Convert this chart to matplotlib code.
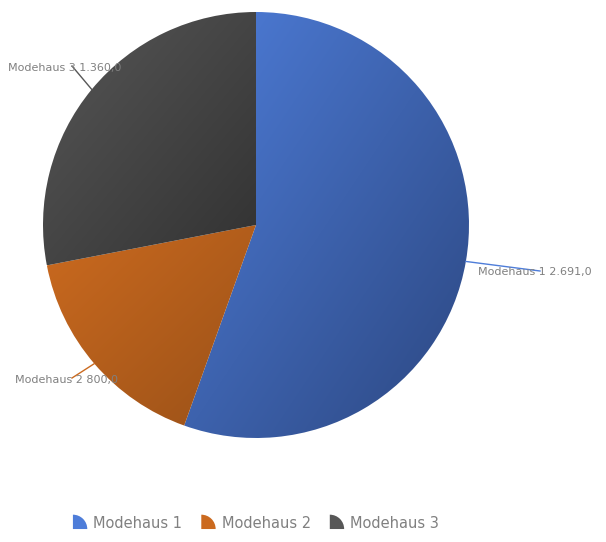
import numpy as np
import matplotlib.pyplot as plt
from matplotlib.colors import LinearSegmentedColormap
from matplotlib.legend_handler import HandlerPatch
from matplotlib.patches import Wedge

labels = ['Modehaus 1', 'Modehaus 2', 'Modehaus 3']
values = [2691.0, 800.0, 1360.0]
value_texts = ['2.691,0', '800,0', '1.360,0']
light_colors = ['#4e7dd9', '#cb6a1f', '#575757']
dark_colors = ['#2c4781', '#9a5118', '#323232']

W, H = 606, 542
cx, cy, r = 256, H - 225, 213


class QuarterHandler(HandlerPatch):
    def create_artists(self, legend, orig_handle, xdescent, ydescent,
                       width, height, fontsize, trans):
        s = min(width, height) * 1.1
        p = Wedge((-xdescent, -ydescent), s, 0, 90,
                  facecolor=orig_handle.get_label_color, edgecolor='none')
        p.set_facecolor(orig_handle._legend_color)
        p.set_transform(trans)
        return [p]


def main():
    fig = plt.figure(figsize=(W / 100, H / 100), dpi=100)
    ax = fig.add_axes([0, 0, 1, 1])

    wedges, _ = ax.pie(values, startangle=90, counterclock=False,
                       center=(cx, cy), radius=r, colors=light_colors,
                       wedgeprops=dict(linewidth=0))
    ax.set_aspect('equal')
    ax.axis('off')

    # diagonal gradient inside each wedge, light top-left -> dark bottom-right
    for w, c1, c2 in zip(wedges, light_colors, dark_colors):
        bb = w.get_path().get_extents(w.get_patch_transform())
        n = 200
        xx, yy = np.meshgrid(np.linspace(0, 1, n), np.linspace(0, 1, n))
        grad = (xx + (1 - yy)) / 2
        cmap = LinearSegmentedColormap.from_list('g', [c1, c2])
        im = ax.imshow(grad, cmap=cmap, extent=(bb.x0, bb.x1, bb.y0, bb.y1),
                       origin='lower', interpolation='bilinear', zorder=1,
                       aspect='auto')
        im.set_clip_path(w)
        w.set_facecolor('none')
        w.set_zorder(2)
    ax.set_xlim(0, W)
    ax.set_ylim(0, H)

    # leader lines and labels
    total = sum(values)
    start = 0
    text_pos = [(478, H - 272), (15, H - 380), (8, H - 68)]
    line_end = [(540, H - 271), (72, H - 378), (72, H - 66)]
    for i, v in enumerate(values):
        mid = (start + v / 2) / total * 2 * np.pi
        start += v
        px = cx + r * np.sin(mid)
        py = cy + r * np.cos(mid)
        ax.plot([px, line_end[i][0]], [py, line_end[i][1]],
                color=light_colors[i], lw=1, zorder=3)
        ax.text(text_pos[i][0], text_pos[i][1],
                labels[i] + ' ' + value_texts[i],
                fontsize=8, color='#808080', va='center', ha='left', zorder=4)

    handles = []
    for lab, c in zip(labels, light_colors):
        h = Wedge((0, 0), 1, 0, 90, label=lab)
        h._legend_color = c
        h.get_label_color = c
        handles.append(h)
    ax.legend(handles, labels, loc='center', bbox_to_anchor=(256 / W, 1 - 523 / H),
              bbox_transform=fig.transFigure, ncol=3, frameon=False,
              fontsize=10.5, labelcolor='#808080', handlelength=1.0,
              handleheight=1.0, columnspacing=1.3, handletextpad=0.4,
              handler_map={Wedge: QuarterHandler()})

    fig.savefig('out.png', dpi=100)


if __name__ == '__main__':
    main()
